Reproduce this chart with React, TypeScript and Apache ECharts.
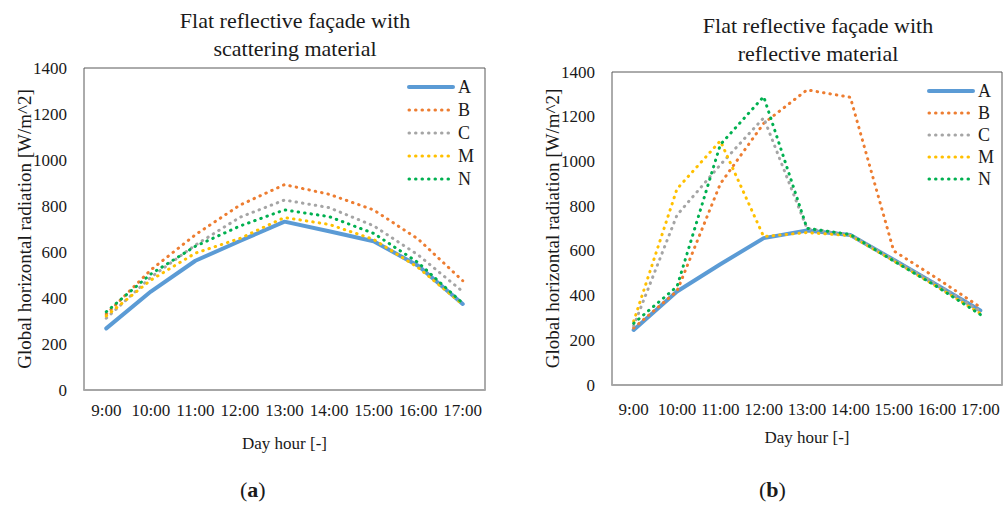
import React, { useEffect, useRef } from "react";
import * as echarts from "echarts";

// Hours of the day on the category axis
const hours = ["9:00", "10:00", "11:00", "12:00", "13:00", "14:00", "15:00", "16:00", "17:00"];
const yTicks = [0, 200, 400, 600, 800, 1000, 1200, 1400];

// (a) Flat reflective façade with scattering material [W/m^2]
const scatA = [268, 428, 562, 648, 732, 690, 647, 540, 374];
const scatB = [330, 522, 675, 804, 893, 851, 783, 656, 475];
const scatC = [312, 490, 630, 751, 826, 793, 714, 587, 428];
const scatM = [322, 478, 595, 659, 750, 720, 655, 532, 372];
const scatN = [340, 504, 625, 713, 783, 754, 681, 554, 377];

// (b) Flat reflective façade with reflective material [W/m^2]
const reflA = [246, 418, 540, 657, 691, 671, 560, 447, 333];
const reflB = [255, 420, 900, 1170, 1320, 1287, 600, 477, 348];
const reflC = [265, 760, 985, 1195, 700, 672, 560, 450, 330];
const reflM = [285, 877, 1092, 664, 682, 668, 555, 440, 320];
const reflN = [276, 440, 1075, 1290, 701, 673, 555, 440, 315];

const seriesNames = ["A", "B", "C", "M", "N"];
const colors: Record<string, string> = {
  A: "#5B9BD5",
  B: "#ED7D31",
  C: "#A5A5A5",
  M: "#FFC000",
  N: "#00B050",
};

const FONT = "Liberation Serif";
const TEXT = "#1a1a1a";

function lineStyleFor(name: string) {
  if (name === "A") {
    return { color: colors[name], width: 4, type: "solid" as const, cap: "round" as const };
  }
  return { color: colors[name], width: 3, type: [0.5, 6] as number[], cap: "round" as const };
}

function makeSeries(name: string, data: number[], idx: number) {
  return {
    type: "line",
    name,
    data,
    xAxisIndex: idx,
    yAxisIndex: idx,
    showSymbol: false,
    symbol: "none",
    color: colors[name],
    lineStyle: lineStyleFor(name),
    z: name === "A" ? 2 : 3,
  };
}

function xAxis(gridIndex: number, labelMargin: number, nameGap: number) {
  return {
    type: "category",
    gridIndex,
    data: hours,
    boundaryGap: true,
    axisLine: { show: true, lineStyle: { color: "#A6A6A6", width: 2 } },
    axisTick: { show: false },
    axisLabel: { interval: 0, margin: labelMargin, fontFamily: FONT, fontSize: 17, color: TEXT },
    name: "Day hour [-]",
    nameLocation: "middle",
    nameGap,
    nameMoveOverlap: false,
    nameTextStyle: { fontFamily: FONT, fontSize: 17, color: TEXT },
  };
}

function yAxis(gridIndex: number) {
  return {
    type: "value",
    gridIndex,
    min: yTicks[0],
    max: yTicks[yTicks.length - 1],
    interval: 200,
    splitLine: { show: false },
    axisLine: { show: false },
    axisTick: { show: false },
    axisLabel: {
      margin: 17,
      fontFamily: FONT,
      fontSize: 17,
      color: TEXT,
      formatter: (v: number) => String(v),
    },
    name: "Global horizontal radiation [W/m^2]",
    nameLocation: "middle",
    nameGap: 50,
    nameMoveOverlap: false,
    nameTextStyle: { fontFamily: FONT, fontSize: 19, color: TEXT },
  };
}

function legend(left: number, top: number, gap: number) {
  return {
    orient: "vertical",
    left,
    top,
    data: seriesNames,
    itemWidth: 44,
    itemHeight: 14,
    itemGap: gap,
    selectedMode: false,
    itemStyle: { opacity: 0 },
    lineStyle: { width: "inherit", type: "inherit", cap: "inherit" },
    textStyle: { fontFamily: FONT, fontSize: 18, color: TEXT, lineHeight: 18 },
  };
}

function caption(letter: string, left: number) {
  return {
    type: "text",
    left,
    top: 478,
    style: {
      text: `{p|(}{b|${letter}}{p|)}`,
      rich: {
        p: { fontFamily: FONT, fontSize: 22, fill: TEXT },
        b: { fontFamily: FONT, fontSize: 22, fontWeight: "bold", fill: TEXT },
      },
    },
  };
}

export default function App() {
  const ref = useRef<HTMLDivElement>(null);

  useEffect(() => {
    if (!ref.current) return;
    const chart = echarts.init(ref.current, null, { renderer: "svg" });
    const scat = [scatA, scatB, scatC, scatM, scatN];
    const refl = [reflA, reflB, reflC, reflM, reflN];
    const titleStyle = { fontFamily: FONT, fontSize: 22, fontWeight: "normal", color: TEXT, lineHeight: 28 };

    chart.setOption({
      animation: false,
      backgroundColor: "#ffffff",
      textStyle: { fontFamily: FONT },
      title: [
        {
          text: "Flat reflective façade with\nscattering material",
          left: 290,
          top: 1,
          textAlign: "center",
          textStyle: titleStyle,
        },
        {
          text: "Flat reflective façade with\nreflective material",
          left: 813,
          top: 6,
          textAlign: "center",
          textStyle: titleStyle,
        },
      ],
      grid: [
        { left: 84, top: 68, width: 401, height: 322, show: true, borderColor: "#595959", borderWidth: 1 },
        { left: 612, top: 72, width: 390, height: 313, show: true, borderColor: "#595959", borderWidth: 1 },
      ],
      xAxis: [xAxis(0, 12, 45), xAxis(1, 16, 44)],
      yAxis: [yAxis(0), yAxis(1)],
      legend: [legend(402, 73, 5), legend(922, 77, 4)],
      series: [
        ...seriesNames.map((n, i) => makeSeries(n, scat[i], 0)),
        ...seriesNames.map((n, i) => makeSeries(n, refl[i], 1)),
      ],
      graphic: [caption("a", 240), caption("b", 759)],
    });

    return () => chart.dispose();
  }, []);

  return (
    <div
      ref={ref}
      style={{ position: "absolute", left: 0, top: 0, width: 1008, height: 506, background: "#fff" }}
    />
  );
}
